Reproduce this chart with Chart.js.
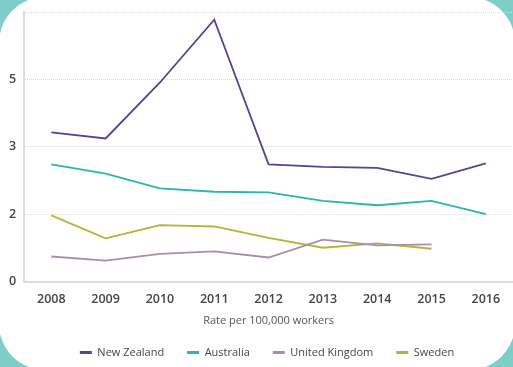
<!DOCTYPE html>
<html>
<head>
<meta charset="utf-8">
<script src="https://cdn.jsdelivr.net/npm/chart.js@4"></script>
<style>
  html, body { margin: 0; padding: 0; }
  body { width: 513px; height: 367px; background: #7ecdc8; overflow: hidden; position: relative; }
  .card { position: absolute; left: -1px; top: -3px; width: 516px; height: 373px; background: #fff; border-radius: 46px; }
  .wrap { position: absolute; left: 0; top: 0; width: 513px; height: 367px; }
</style>
</head>
<body>
<div class="card"></div>
<div class="wrap"><canvas id="grafico" width="513" height="367"></canvas></div>
<script>
// Anos do eixo x
const anos = ['2008', '2009', '2010', '2011', '2012', '2013', '2014', '2015', '2016'];

// Valores (unidades das linhas de grade: 0..8)
const novaZelandia = [4.43, 4.25, 5.91, 7.77, 3.48, 3.41, 3.38, 3.05, 3.51];
const australia = [3.48, 3.21, 2.77, 2.67, 2.65, 2.40, 2.27, 2.40, 2.01];
const reinoUnido = [0.75, 0.63, 0.83, 0.90, 0.72, 1.25, 1.08, 1.11, null];
const suecia = [1.97, 1.29, 1.68, 1.64, 1.30, 1.01, 1.14, 0.98, null];

// Rótulos do eixo y como aparecem na figura
const rotulosY = ['0', '2', '3', '5', ''];

const corTexto = '#454545';

function serie(nome, valores, cor) {
    return {
        label: nome,
        data: valores,
        borderColor: cor,
        backgroundColor: cor,
        borderWidth: 1.8,
        pointRadius: 0,
        tension: 0,
        spanGaps: false
    };
}

// Deixa a legenda mais compacta na vertical e centrada sob a área do gráfico
const ajusteLegenda = {
    id: 'ajusteLegenda',
    beforeUpdate(chart) {
        const legenda = chart.legend;
        if (!legenda || legenda._ajustada) return;
        const fitOriginal = legenda.fit.bind(legenda);
        legenda.fit = function () { fitOriginal(); this.height -= 8; };
        legenda._ajustada = true;
    },
    afterLayout(chart) {
        const legenda = chart.legend;
        if (!legenda) return;
        legenda.top -= 7;
        legenda.left += 10;
        legenda.right += 10;
    }
};

const ctx = document.getElementById('grafico').getContext('2d');

new Chart(ctx, {
    type: 'line',
    data: {
        labels: anos,
        datasets: [
            serie('New Zealand', novaZelandia, '#4b4896'),
            serie('Australia', australia, '#2bb5af'),
            serie('United Kingdom', reinoUnido, '#a88ea6'),
            serie('Sweden', suecia, '#b4b43c')
        ]
    },
    plugins: [ajusteLegenda],
    options: {
        responsive: false,
        animation: false,
        layout: { padding: { top: 12, left: 1, right: 0, bottom: 0 } },
        plugins: {
            tooltip: { enabled: false },
            legend: {
                position: 'bottom',
                labels: {
                    color: corTexto,
                    font: { family: 'Open Sans', size: 11 },
                    boxWidth: 12,
                    boxHeight: 3,
                    padding: 23,
                    generateLabels: function (chart) {
                        const itens = Chart.defaults.plugins.legend.labels.generateLabels(chart);
                        itens.forEach(function (i) { i.lineWidth = 0; });
                        return itens;
                    }
                }
            }
        },
        scales: {
            x: {
                offset: true,
                grid: { display: false },
                border: { display: true, color: '#dcdcdc', width: 2 },
                ticks: {
                    color: corTexto,
                    font: { family: 'Open Sans', size: 12.5, weight: '600' },
                    padding: 2,
                    maxRotation: 0
                },
                title: {
                    display: true,
                    text: 'Rate per 100,000 workers',
                    color: '#555',
                    font: { family: 'Open Sans', size: 11 },
                    padding: { top: 5, bottom: 4 }
                }
            },
            y: {
                min: 0,
                max: 8,
                afterFit: function (escala) { escala.paddingTop = 0; },
                grid: { color: '#d9d9d9', drawTicks: false, lineWidth: 1 },
                border: { display: true, color: '#dcdcdc', width: 2, dash: [1, 1] },
                ticks: {
                    stepSize: 2,
                    color: corTexto,
                    font: { family: 'Open Sans', size: 12.5, weight: '600' },
                    padding: 8,
                    callback: function (valor) { return rotulosY[valor / 2]; }
                }
            }
        }
    }
});
</script>
</body>
</html>
